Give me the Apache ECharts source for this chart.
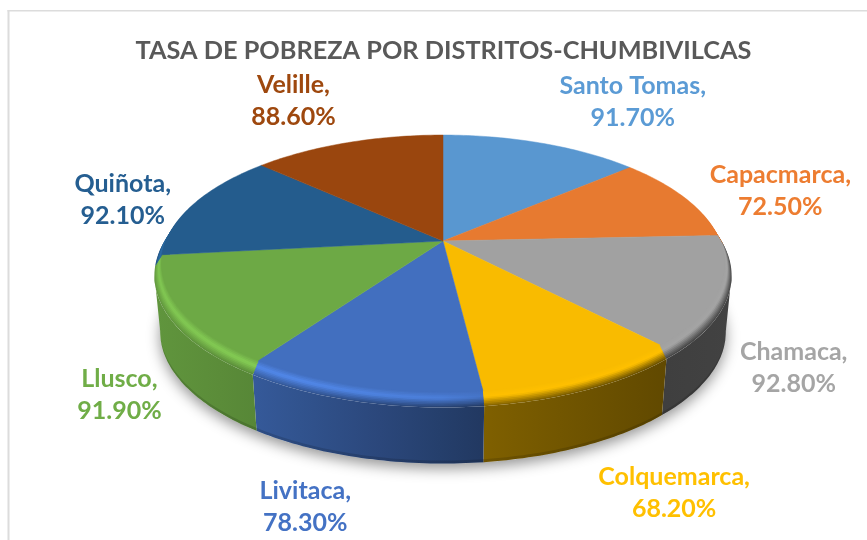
<!DOCTYPE html>
<html><head><meta charset="utf-8">
<style>html,body{margin:0;padding:0;background:#fff}#c{width:867px;height:540px}</style>
<script src="https://cdn.jsdelivr.net/npm/echarts@6/dist/echarts.min.js"></script>
</head><body><div id="c"></div>
<script>
const categories = ['Santo Tomas','Capacmarca','Chamaca','Colquemarca','Livitaca','Llusco','Quiñota','Velille'];
const values = [91.7,72.5,92.8,68.2,78.3,91.9,92.1,88.6];
const titleText = 'TASA DE POBREZA POR DISTRITOS-CHUMBIVILCAS';
const colors = ['#5b9bd5','#ed7d31','#a5a5a5','#ffc000','#4472c4','#70ad47','#255e91','#9e480e'];
const labelOffsets = [[91,-41],[96,-7],[76,77],[92,118],[-57,120],[-62,84],[-71,-4],[-54,-42]];

// perspective projection of the pie disc
const CX=443, CY=241, RX=277, RY=124.5, K=0.175;
const RIM_R=0.025, RIM_Z=11, BASE_Z=67, BASE_SX=0.98;
const X0=157, X1=731, FACE_SHADE=.975;
const wallShade=[[157,.86],[256,.78],[480,.5],[665,.38],[731,.4]];
const lift=[[157,.16],[300,.2],[440,.12],[490,0],[731,0]];

const total=values.reduce((a,b)=>a+b,0);
const rad=a=>a*Math.PI/180;
const bounds=[0];
values.forEach(v=>bounds.push(bounds[bounds.length-1]+v/total*360));
function P(deg,r,z,sx){
  const u=Math.sin(rad(deg))*r, v=Math.cos(rad(deg))*r, d=1+K*v;
  return [CX+(sx||1)*RX*u/d, CY+(z||0)-RY*v/d];
}
function arc(a,b,r,z,sx){
  const n=Math.max(2,Math.ceil(Math.abs(b-a))), pts=[];
  for(let i=0;i<=n;i++) pts.push(P(a+(b-a)*i/n,r,z,sx));
  return pts;
}
function hex(c){return [1,3,5].map(i=>parseInt(c.substr(i,2),16));}
function css(a){return 'rgb('+a.map(x=>Math.max(0,Math.min(255,Math.round(x)))).join(',')+')';}
function mul(c,f){return hex(c).map(x=>x*f);}
function mix(a,b,t){return a.map((x,i)=>x+(b[i]-x)*t);}
function hgrad(fn,xs){
  return {type:'linear',x:X0,y:0,x2:X1,y2:0,global:true,
    colorStops:xs.map(x=>({offset:(x-X0)/(X1-X0),color:fn(x)}))};
}
function interp(tbl,x){
  for(let i=1;i<tbl.length;i++) if(x<=tbl[i][0]){
    const t=(x-tbl[i-1][0])/(tbl[i][0]-tbl[i-1][0]);
    return tbl[i-1][1]+(tbl[i][1]-tbl[i-1][1])*t;
  }
  return tbl[tbl.length-1][1];
}
const gradXs=[157,220,256,300,380,440,480,490,560,665,731];
const VIS0=Math.acos(-K)*180/Math.PI, VIS1=360-VIS0;

function wallItem(params){
  const i=params.dataIndex, a=Math.max(bounds[i],VIS0), b=Math.min(bounds[i+1],VIS1);
  if(b<=a) return {type:'group',children:[]};
  const top=arc(a,b,1+RIM_R,RIM_Z), bot=arc(a,b,1+RIM_R,BASE_Z,BASE_SX).reverse();
  const low=arc(a,b,1+RIM_R,BASE_Z-3,BASE_SX+.001);
  const c=colors[i];
  return {type:'group',children:[
    {type:'polygon',shape:{points:top.concat(bot)},
     style:{fill:hgrad(x=>css(mul(c,interp(wallShade,x))),gradXs)}},
    {type:'polygon',shape:{points:low.concat(bot)},
     style:{fill:hgrad(x=>css(mul(c,interp(wallShade,x)*.72)),gradXs),opacity:.5}}
  ]};
}
const STRIPS=10;
function bevelItem(params){
  const i=params.dataIndex, c=colors[i], a=bounds[i], b=bounds[i+1], kids=[];
  // outermost band first; each inner band overpaints it, so no seams show
  for(let s=STRIPS-1;s>=0;s--){
    const t1=(s+1)/STRIPS, tm=(s+.5)/STRIPS;
    const inner=arc(a,b,1-RIM_R,0), outer=arc(a,b,1+RIM_R*t1,RIM_Z*t1).reverse();
    const fill=hgrad(x=>{
      const face=mul(c,FACE_SHADE), lit=mul(c,1+interp(lift,x)),
            wall=mul(c,interp(wallShade,x));
      return css(tm<.4?mix(face,lit,tm/.4):mix(lit,wall,(tm-.4)/.6));
    },gradXs);
    kids.push({type:'polygon',z2:STRIPS-s,shape:{points:inner.concat(outer)},style:{fill}});
  }
  return {type:'group',children:kids};
}
function faceItem(params){
  const i=params.dataIndex, f=css(mul(colors[i],FACE_SHADE));
  return {type:'polygon',shape:{points:[[CX,CY]].concat(arc(bounds[i],bounds[i+1],1,0))},
    style:{fill:f,stroke:f,lineWidth:.5}};
}
function labelItem(params,api){
  const i=params.dataIndex, mid=(bounds[i]+bounds[i+1])/2, p=P(mid,1,0), o=labelOffsets[i];
  return {type:'text',style:{
    x:p[0]+o[0],y:p[1]+o[1],
    text:categories[i]+',\n'+api.value(0).toFixed(2)+'%',
    fill:colors[i],font:'bold 25px Lato',lineHeight:32,align:'center',verticalAlign:'middle'}};
}
function shadowItem(){
  return {type:'polygon',shape:{points:arc(0,360,1+RIM_R,BASE_Z,BASE_SX)},
    style:{fill:'#fff',shadowColor:'rgba(0,0,0,.42)',shadowBlur:14,shadowOffsetX:0,shadowOffsetY:5}};
}
const layer=(name,z,fn,data)=>({name,type:'custom',coordinateSystem:'none',z,silent:true,
  renderItem:fn,data:data||values.map((v,i)=>({name:categories[i],value:[v]}))});

const chart=echarts.init(document.getElementById('c'));
chart.setOption({
  animation:false,backgroundColor:'#fff',
  title:{text:titleText,left:438.5,top:33,textAlign:'center',
    textStyle:{fontFamily:'Lato',fontWeight:'bold',fontSize:25.3,color:'#595959'}},
  graphic:[
    {type:'rect',shape:{x:7.5,y:10,width:2,height:530},style:{fill:'#dcdcdc'},z:0},
    {type:'rect',shape:{x:7.5,y:10,width:860,height:1.5},style:{fill:'#dcdcdc'},z:0}
  ],
  series:[
    layer('shadow',1,shadowItem,[[0]]),
    layer('walls',2,wallItem),
    layer('bevel',3,bevelItem),
    layer('faces',4,faceItem),
    layer('labels',5,labelItem)
  ]
});
</script></body></html>
